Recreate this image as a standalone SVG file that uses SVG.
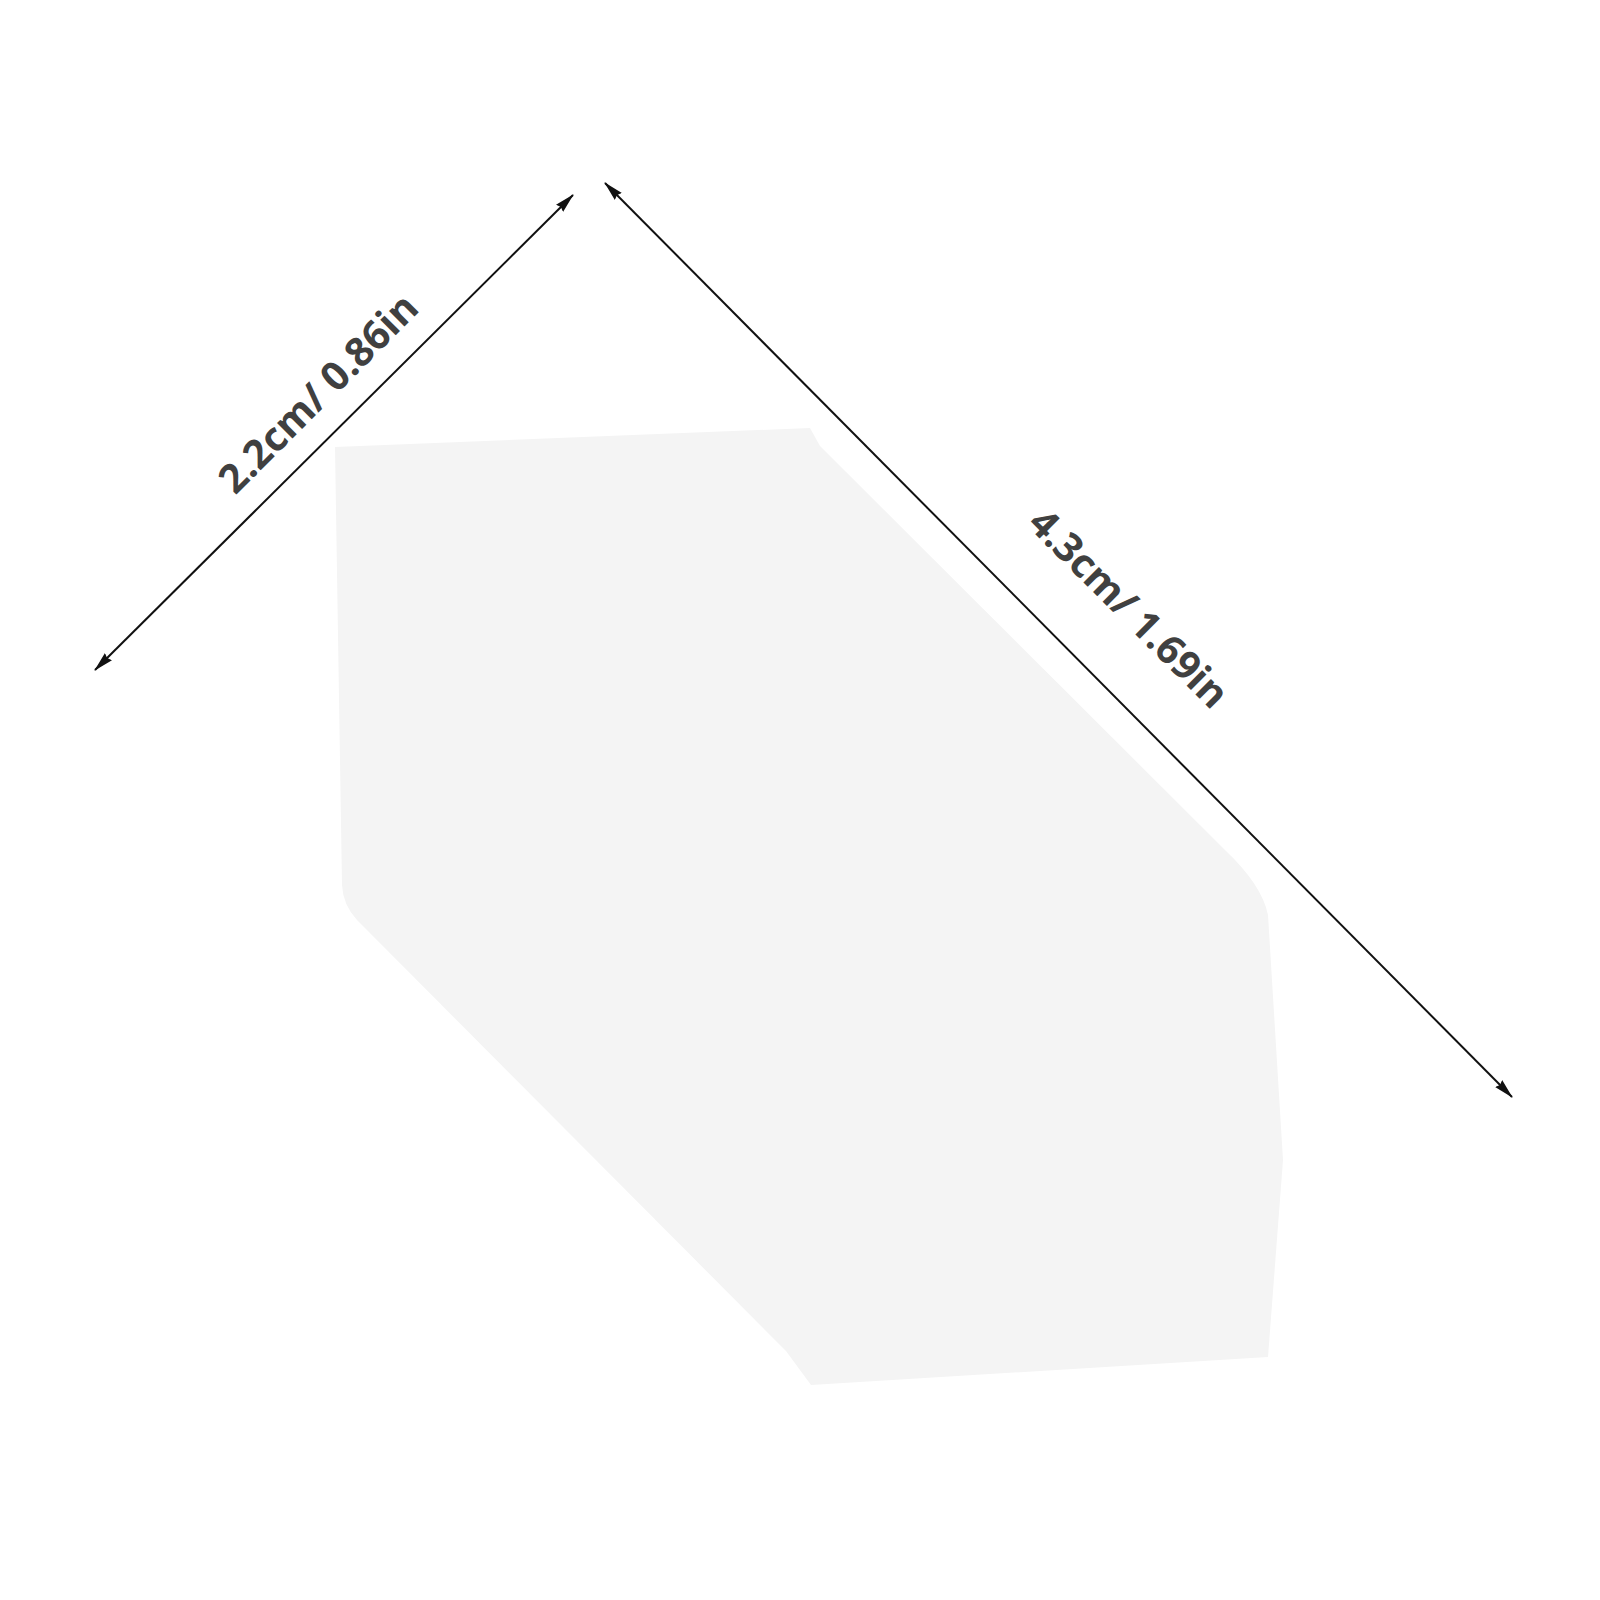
<svg xmlns="http://www.w3.org/2000/svg" width="1600" height="1600" viewBox="0 0 1600 1600">
<defs>
<style>
.dim{stroke:#111;stroke-width:2;fill:none}
.lbl{font-family:"Open Sans","Noto Sans","Liberation Sans",sans-serif;font-weight:700;font-size:40px;fill:#404040;text-anchor:middle}
</style>
<marker id="ah" viewBox="0 0 20 12" refX="19" refY="6" markerWidth="20" markerHeight="12" markerUnits="userSpaceOnUse" orient="auto-start-reverse">
<path d="M0,1 L20,6 L0,11 L2,6 Z" fill="#111"/>
</marker>
</defs>
<rect width="1600" height="1600" fill="#fff"/>
<g id="piece">
<path d="M335,447 L810,428 L820,446 L1225,850 Q1262,885 1268,915 L1283,1160 L1268,1357 L811,1385 L786,1351 L357,920 Q343,905 342,885 Z" fill="#f4f4f4"/>
</g>
<g id="connectors">
<line class="dim" x1="95" y1="670" x2="573" y2="195" marker-start="url(#ah)" marker-end="url(#ah)"/>
<line class="dim" x1="605" y1="183" x2="1512" y2="1097" marker-start="url(#ah)" marker-end="url(#ah)"/>
</g>
<g id="label-width">
<text class="lbl" transform="translate(328,403) rotate(-45)">2.2cm/ 0.86in</text>
</g>
<g id="label-length">
<text class="lbl" transform="translate(1119,618) rotate(45)">4.3cm/ 1.69in</text>
</g>
</svg>
